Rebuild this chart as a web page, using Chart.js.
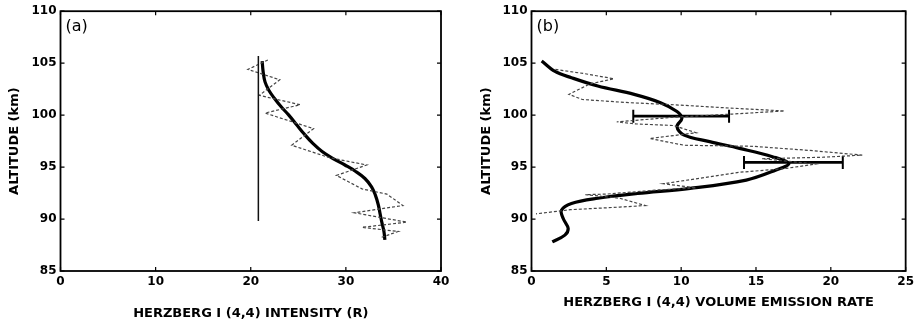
<!DOCTYPE html>
<html>
<head>
<meta charset="utf-8">
<script src="https://cdn.jsdelivr.net/npm/chart.js@4/dist/chart.umd.min.js"></script>
<style>
  html, body { margin: 0; padding: 0; background: #fff; }
  #wrap { position: relative; width: 918px; height: 326px; }
  .panel { position: absolute; top: 0; width: 459px; height: 326px; }
  #panelA { left: 0; }
  #panelB { left: 459px; }
</style>
</head>
<body>
<div id="wrap">
  <div class="panel" id="panelA"><canvas id="chartA" width="459" height="326"></canvas></div>
  <div class="panel" id="panelB"><canvas id="chartB" width="459" height="326"></canvas></div>
</div>
<script>
// ---- panel (a): intensity vs altitude ----
const intensityTicks = [0, 10, 20, 30, 40];
const altitudeTicks = [85, 90, 95, 100, 105, 110];

// smoothed profile (thick line)
const fitAIntensity = [21.2, 21.3, 21.5, 21.9, 22.5, 23.2, 24.0, 24.8, 25.6, 26.5, 27.5, 28.7, 29.9, 31.0, 32.0, 32.7, 33.1, 33.4, 33.6, 33.8, 34.0, 34.1];
const fitAAltitude = [105.2, 104.2, 103.2, 102.4, 101.6, 100.8, 100.0, 99.1, 98.2, 97.3, 96.5, 95.8, 95.2, 94.6, 93.9, 93.1, 92.3, 91.4, 90.5, 89.6, 88.8, 88.0];

// raw measurement (dashed zig-zag)
const rawAIntensity = [21.8, 19.7, 23.05, 20.9, 25.2, 21.5, 26.6, 24.3, 28.3, 32.2, 29.0, 31.7, 34.3, 36.0, 30.9, 36.4, 31.7, 35.5, 33.6];
const rawAAltitude = [105.3, 104.4, 103.4, 101.9, 101.0, 100.2, 98.7, 97.1, 95.9, 95.2, 94.2, 92.9, 92.4, 91.3, 90.6, 89.7, 89.2, 88.8, 88.2];

// background level (thin vertical line)
const backgroundIntensity = [20.8, 20.8];
const backgroundAltitude = [89.8, 105.7];

// ---- panel (b): volume emission rate vs altitude ----
const emissionTicks = [0, 5, 10, 15, 20, 25];

const fitBRate = [0.68, 1.57, 2.67, 4.43, 6.86, 8.62, 9.72, 10.05, 9.72, 10.16, 11.9, 13.9, 16.1, 17.2, 16.3, 14.35, 10.6, 7.08, 4.43, 2.67, 2.0, 2.12, 2.45, 2.23, 1.39];
const fitBAltitude = [105.2, 104.2, 103.6, 102.8, 102.0, 101.2, 100.35, 99.7, 98.9, 98.1, 97.45, 96.8, 96.0, 95.35, 94.7, 93.75, 92.95, 92.46, 92.0, 91.5, 90.85, 90.05, 89.1, 88.45, 87.8];

const rawBRate = [1.6, 3.5, 5.5, 3.9, 2.5, 3.4, 6.5, 9.5, 13.0, 16.9, 13.4, 9.5, 5.7, 7.0, 9.5, 11.0, 7.9, 10.2, 14.8, 18.6, 22.1, 19.5, 15.4, 19.0, 16.9, 13.9, 8.8, 11.0, 8.5, 5.0, 3.6, 5.9, 7.6, 5.9, 2.6, 0.3];
const rawBAltitude = [104.4, 104.0, 103.5, 103.0, 102.0, 101.5, 101.2, 101.0, 100.7, 100.4, 100.1, 99.8, 99.35, 99.15, 99.0, 98.3, 97.75, 97.1, 97.0, 96.6, 96.15, 95.95, 95.8, 95.3, 94.85, 94.5, 93.4, 93.0, 92.8, 92.4, 92.35, 92.0, 91.3, 91.15, 90.9, 90.5];

// error bars: [low, high] at an altitude
const errorBarAltitude = [99.9, 95.45];
const errorBarLow = [6.8, 14.2];
const errorBarHigh = [13.2, 20.8];

function toPoints(xs, ys) {
    return xs.map((x, i) => ({ x: x, y: ys[i] }));
}

// box frame + inward ticks on all four sides
const frameTicks = {
    id: "frameTicks",
    afterDraw(chart) {
        const { ctx, chartArea: a, scales } = chart;
        const len = 4;
        ctx.save();
        ctx.strokeStyle = "#000";
        ctx.lineWidth = 1.8;
        ctx.strokeRect(a.left, a.top, a.right - a.left, a.bottom - a.top);
        ctx.lineWidth = 1.2;
        ctx.beginPath();
        scales.x.ticks.forEach((t) => {
            const px = scales.x.getPixelForValue(t.value);
            ctx.moveTo(px, a.bottom);
            ctx.lineTo(px, a.bottom - len);
            ctx.moveTo(px, a.top);
            ctx.lineTo(px, a.top + len);
        });
        scales.y.ticks.forEach((t) => {
            const py = scales.y.getPixelForValue(t.value);
            ctx.moveTo(a.left, py);
            ctx.lineTo(a.left + len, py);
            ctx.moveTo(a.right, py);
            ctx.lineTo(a.right - len, py);
        });
        ctx.stroke();
        ctx.restore();
    },
};

// "(a)" / "(b)" tag in the upper-left corner
const panelTag = {
    id: "panelTag",
    afterDraw(chart, args, opts) {
        const { ctx, chartArea: a } = chart;
        ctx.save();
        ctx.fillStyle = "#000";
        ctx.font = "16px 'DejaVu Sans', sans-serif";
        ctx.textBaseline = "middle";
        ctx.fillText(opts.text, a.left + opts.dx, a.top + 16);
        ctx.restore();
    },
};

Chart.defaults.font.family = "'DejaVu Sans', 'Liberation Sans', sans-serif";
Chart.defaults.color = "#000";

function axisOptions(min, max, ticks, titleText, fit, titlePad) {
    return {
        type: "linear",
        min: min,
        max: max,
        afterBuildTicks: (scale) => {
            scale.ticks = ticks.map((v) => ({ value: v }));
        },
        grid: { display: false, drawTicks: false },
        border: { display: false },
        ticks: {
            padding: 4,
            font: { size: 12, weight: "bold" },
        },
        title: {
            display: true,
            text: titleText,
            font: { size: 13, weight: "bold" },
            padding: titlePad,
        },
        afterFit: fit,
    };
}

function makeChart(canvasId, cfg) {
    const ctx = document.getElementById(canvasId).getContext("2d");
    return new Chart(ctx, {
        type: "scatter",
        data: { datasets: cfg.datasets },
        options: {
            responsive: false,
            animation: false,
            events: [],
            layout: { padding: cfg.padding },
            plugins: {
                legend: { display: false },
                tooltip: { enabled: false },
                panelTag: { text: cfg.tag, dx: 5 },
            },
            scales: {
                x: axisOptions(cfg.xMin, cfg.xMax, cfg.xTicks, cfg.xTitle,
                    (s) => { s.height = 55; }, { top: 0, bottom: cfg.xTitlePad }),
                y: axisOptions(85, 110, altitudeTicks, "ALTITUDE (km)",
                    (s) => { s.width = cfg.yWidth; }, { top: cfg.yTitlePad, bottom: 0 }),
            },
        },
        plugins: [frameTicks, panelTag],
    });
}

document.addEventListener("DOMContentLoaded", () => {
    makeChart("chartA", {
        tag: "(a)",
        padding: { top: 10.5, right: 18, left: 0, bottom: 0 },
        yWidth: 60.5,
        yTitlePad: 7,
        xTitlePad: 5,
        xMin: 0, xMax: 40, xTicks: intensityTicks,
        xTitle: "HERZBERG I (4,4) INTENSITY (R)",
        datasets: [
            {
                data: toPoints(backgroundIntensity, backgroundAltitude),
                showLine: true, borderColor: "#111", borderWidth: 1.5, pointRadius: 0,
            },
            {
                data: toPoints(rawAIntensity, rawAAltitude),
                showLine: true, borderColor: "#444", borderWidth: 1.2, borderDash: [3, 2],
                pointRadius: 0,
            },
            {
                data: toPoints(fitAIntensity, fitAAltitude),
                showLine: true, borderColor: "#000", borderWidth: 3.2, pointRadius: 0,
                tension: 0.4,
            },
        ],
    });

    const errorBars = errorBarAltitude.map((alt, i) => ({
        data: [{ x: errorBarLow[i], y: alt }, { x: errorBarHigh[i], y: alt }],
        showLine: true, borderColor: "#000", borderWidth: 2.6,
        pointStyle: "line", rotation: 90, pointRadius: 6.5,
        pointBorderColor: "#000", pointBorderWidth: 2,
    }));

    makeChart("chartB", {
        tag: "(b)",
        padding: { top: 10.5, right: 10, left: 0, bottom: 0 },
        yWidth: 72.5,
        yTitlePad: 20,
        xTitlePad: 16,
        xMin: 0, xMax: 25, xTicks: emissionTicks,
        xTitle: "HERZBERG I (4,4) VOLUME EMISSION RATE",
        datasets: [
            {
                data: toPoints(rawBRate, rawBAltitude),
                showLine: true, borderColor: "#444", borderWidth: 1.2, borderDash: [3, 2],
                pointRadius: 0,
            },
            ...errorBars,
            {
                data: toPoints(fitBRate, fitBAltitude),
                showLine: true, borderColor: "#000", borderWidth: 3.2, pointRadius: 0,
                tension: 0.35,
            },
        ],
    });
});
</script>
</body>
</html>
